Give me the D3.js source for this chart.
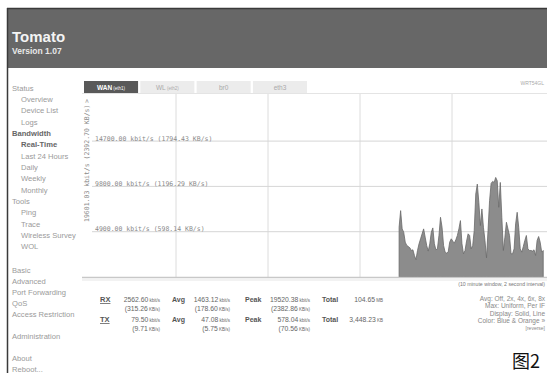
<!DOCTYPE html>
<html><head><meta charset="utf-8">
<script src="https://cdn.jsdelivr.net/npm/d3@7"></script>
<style>
html,body{margin:0;padding:0;background:#fff;overflow:hidden}
svg{display:block}
</style></head>
<body>
<svg id="c" width="547" height="373"></svg>
<script>
// ---------- data ----------
const menuItems = [
  ["Status",0,88,0],["Overview",1,99,0],["Device List",1,110,0],["Logs",1,122,0],
  ["Bandwidth",0,133,1],["Real-Time",1,144,1],["Last 24 Hours",1,156,0],["Daily",1,167,0],
  ["Weekly",1,178,0],["Monthly",1,190,0],["Tools",0,201,0],["Ping",1,212,0],["Trace",1,224,0],
  ["Wireless Survey",1,235,0],["WOL",1,246,0],["Basic",0,270,0],["Advanced",0,281,0],
  ["Port Forwarding",0,292,0],["QoS",0,303,0],["Access Restriction",0,314,0],
  ["Administration",0,336,0],["About",0,358,0],["Reboot...",0,369,0]
];
const tabNames = ["WAN", "WL", "br0", "eth3"];
const tabIfs = ["(eth1)", "(eth2)", "", ""];
const gridValues = [4900, 9800, 14700];
const gridLabels = ["4900.00 kbit/s (598.14 KB/s)", "9800.00 kbit/s (1196.29 KB/s)", "14700.00 kbit/s (1794.43 KB/s)"];
const maxValue = 19601.03;
const maxLabel = "19601.03 kbit/s (2392.70 KB/s)";
const windowSamples = 300; // 10 minute window, 2 second interval
const rxValues = [
  5385,7180,5205,4850,3770,3410,3300,3160,2870,2940,2330,1870,2870,3590,4130,4670,5205,4310,3410,2800,
  3590,4850,5310,3590,2940,3050,4490,6460,5385,3410,2690,2585,2690,3770,4130,3880,3660,4020,4490,5205,
  6100,3590,2510,2870,3880,4670,4490,3050,3410,5030,8975,10050,8080,5565,7360,5385,3950,2080,5030,8260,
  10120,10340,10230,10770,10410,7540,10230,6460,2870,4310,5920,5205,4490,2510,2510,3050,5745,7000,5385,3050,
  2690,3300,3950,4490,3050,2870,2870,2800,2940,2330,3950,4380,3770,2690,2870
];
const statRows = [
  {name:"RX", cur:"2562.60", curB:"(315.26", avg:"1463.12", avgB:"(178.60", peak:"19520.38", peakB:"(2382.86", total:"104.65", tUnit:"MB"},
  {name:"TX", cur:"79.50", curB:"(9.71", avg:"47.08", avgB:"(5.75", peak:"578.04", peakB:"(70.56", total:"3,448.23", tUnit:"KB"}
];
const optionLines = ["Avg: Off, 2x, 4x, 6x, 8x", "Max: Uniform, Per IF", "Display: Solid, Line", "Color: Blue & Orange \u00bb", "[reverse]"];

// ---------- drawing ----------
const svg = d3.select("#c");
const sans = "'Liberation Sans', Arial, sans-serif";
const mono = "'DejaVu Sans Mono', 'Liberation Mono', monospace";

// header
svg.append("rect").attr("x",7).attr("y",8).attr("width",540).attr("height",60).attr("fill","#676767");
svg.append("line").attr("x1",7).attr("x2",547).attr("y1",8.5).attr("y2",8.5).attr("stroke","#3a3a3a").attr("stroke-width",1.5);
svg.append("line").attr("x1",7.5).attr("x2",7.5).attr("y1",8).attr("y2",373).attr("stroke","#3a3a3a").attr("stroke-width",1.5);
svg.append("text").attr("x",12).attr("y",42).text("Tomato")
  .attr("font-family",sans).attr("font-weight","bold").attr("font-size",15).attr("fill","#f4f4f4");
svg.append("text").attr("x",12).attr("y",54).text("Version 1.07")
  .attr("font-family",sans).attr("font-weight","bold").attr("font-size",8.5).attr("fill","#e8e8e8");

// menu
svg.append("g").selectAll("text").data(menuItems).join("text")
  .attr("x",d=>d[1]?21:12).attr("y",d=>d[2]+2.5).text(d=>d[0])
  .attr("font-family",sans).attr("font-size",7.6)
  .attr("font-weight",d=>d[3]?"bold":"normal")
  .attr("fill",d=>d[3]?"#666":"#9a9a9a");

// tabs
const tabX = d3.scaleBand().domain(tabNames).range([84,307]).paddingInner(0.04);
const tg = svg.append("g").selectAll("g").data(tabNames).join("g");
tg.append("rect").attr("x",d=>tabX(d)).attr("y",81).attr("width",tabX.bandwidth()).attr("height",12)
  .attr("fill",(d,i)=>i===0?"#595959":"#ececec");
tg.append("text").attr("x",d=>tabX(d)+tabX.bandwidth()/2).attr("y",89.5).attr("text-anchor","middle")
  .attr("font-family",sans).attr("font-size",6.5).attr("fill",(d,i)=>i===0?"#fff":"#aaa")
  .each(function(d,i){
    const t=d3.select(this);
    t.append("tspan").text(d).attr("font-weight",i===0?"bold":"normal");
    if(tabIfs[i]) t.append("tspan").text(" "+tabIfs[i]).attr("font-size",4.5);
  });
svg.append("text").attr("x",544).attr("y",85).attr("text-anchor","end").text("WRT54GL")
  .attr("font-family",sans).attr("font-size",5).attr("fill","#aaa");

// chart
const x = d3.scaleLinear().domain([0, windowSamples]).range([84, 544]);
const y = d3.scaleLinear().domain([0, maxValue]).range([277, 95.8]);
svg.append("line").attr("x1",82).attr("x2",547).attr("y1",93.5).attr("y2",93.5).attr("stroke","#e4e4e4");
// vertical grid (2-minute divisions)
svg.append("g").selectAll("line").data(d3.range(60, windowSamples, 60)).join("line")
  .attr("x1",d=>x(d)).attr("x2",d=>x(d)).attr("y1",94).attr("y2",277)
  .attr("stroke","#dcdcdc").attr("stroke-width",1);
// horizontal grid
svg.append("g").selectAll("line").data(gridValues).join("line")
  .attr("x1",92).attr("x2",547).attr("y1",d=>y(d)).attr("y2",d=>y(d))
  .attr("stroke","#d6d6d6").attr("stroke-width",1);

// area
const offset = windowSamples - rxValues.length;
const area = d3.area().x((d,i)=>x(offset+i+0.5)).y0(y(0)).y1(d=>y(d)).curve(d3.curveLinear);
svg.append("path").datum(rxValues).attr("d",area).attr("fill","#8c8c8c").attr("stroke","#6a6a6a").attr("stroke-width",0.8);

// baseline
svg.append("line").attr("x1",82).attr("x2",547).attr("y1",277.5).attr("y2",277.5).attr("stroke","#c8c8c8").attr("stroke-width",1.5);
svg.append("line").attr("x1",82).attr("x2",547).attr("y1",280).attr("y2",280).attr("stroke","#eeeeee").attr("stroke-width",1.5);

// grid labels
svg.append("g").selectAll("text").data(gridValues).join("text")
  .attr("x",95).attr("y",d=>y(d)-0.5).text((d,i)=>gridLabels[i])
  .attr("font-family",mono).attr("font-size",6.5).attr("fill","#8a8a8a");
// rotated max label
svg.append("text").attr("transform","translate(89,222) rotate(-90)").text(maxLabel)
  .attr("font-family",mono).attr("font-size",6.5).attr("fill","#8a8a8a");
svg.append("text").attr("transform","translate(89,103) rotate(-90)").text(">")
  .attr("font-family",mono).attr("font-size",6.5).attr("fill","#8a8a8a");

svg.append("text").attr("x",545).attr("y",286).attr("text-anchor","end").text("(10 minute window, 2 second interval)")
  .attr("font-family",sans).attr("font-size",5.2).attr("fill","#777");

// stats
const sg = svg.append("g").attr("font-family",sans).attr("fill","#666");
statRows.forEach((r,i)=>{
  const y0 = 302 + i*20, y1 = y0 + 9;
  sg.append("text").attr("x",100).attr("y",y0).text(r.name).attr("font-weight","bold").attr("font-size",7.5).attr("fill","#555")
    .attr("text-decoration","underline");
  const num = (xx,yy,v,u,sz)=>{
    const t = sg.append("text").attr("x",xx).attr("y",yy).attr("text-anchor","end").attr("font-size",sz||6.8);
    t.append("tspan").text(v);
    t.append("tspan").text(u).attr("font-size",4.5);
  };
  num(160,y0,r.cur," kbit/s");
  num(160,y1,r.curB," KB/s)");
  sg.append("text").attr("x",172).attr("y",y0).text("Avg").attr("font-weight","bold").attr("font-size",7).attr("fill","#555");
  num(230,y0,r.avg," kbit/s");
  num(230,y1,r.avgB," KB/s)");
  sg.append("text").attr("x",245).attr("y",y0).text("Peak").attr("font-weight","bold").attr("font-size",7).attr("fill","#555");
  num(310,y0,r.peak," kbit/s");
  num(310,y1,r.peakB," KB/s)");
  sg.append("text").attr("x",322).attr("y",y0).text("Total").attr("font-weight","bold").attr("font-size",7).attr("fill","#555");
  num(383,y0,r.total," "+r.tUnit);
});

// options
svg.append("g").selectAll("text").data(optionLines).join("text")
  .attr("x",545).attr("y",(d,i)=>301+i*7.3).attr("text-anchor","end").text(d=>d)
  .attr("font-family",sans).attr("font-size",(d,i)=>i===4?5:6.5).attr("fill","#888");

// figure caption
svg.append("text").attr("x",540).attr("y",368).attr("text-anchor","end").text("图2")
  .attr("font-family","'Noto Sans CJK SC', sans-serif").attr("font-size",18).attr("fill","#111");
</script>
</body></html>
